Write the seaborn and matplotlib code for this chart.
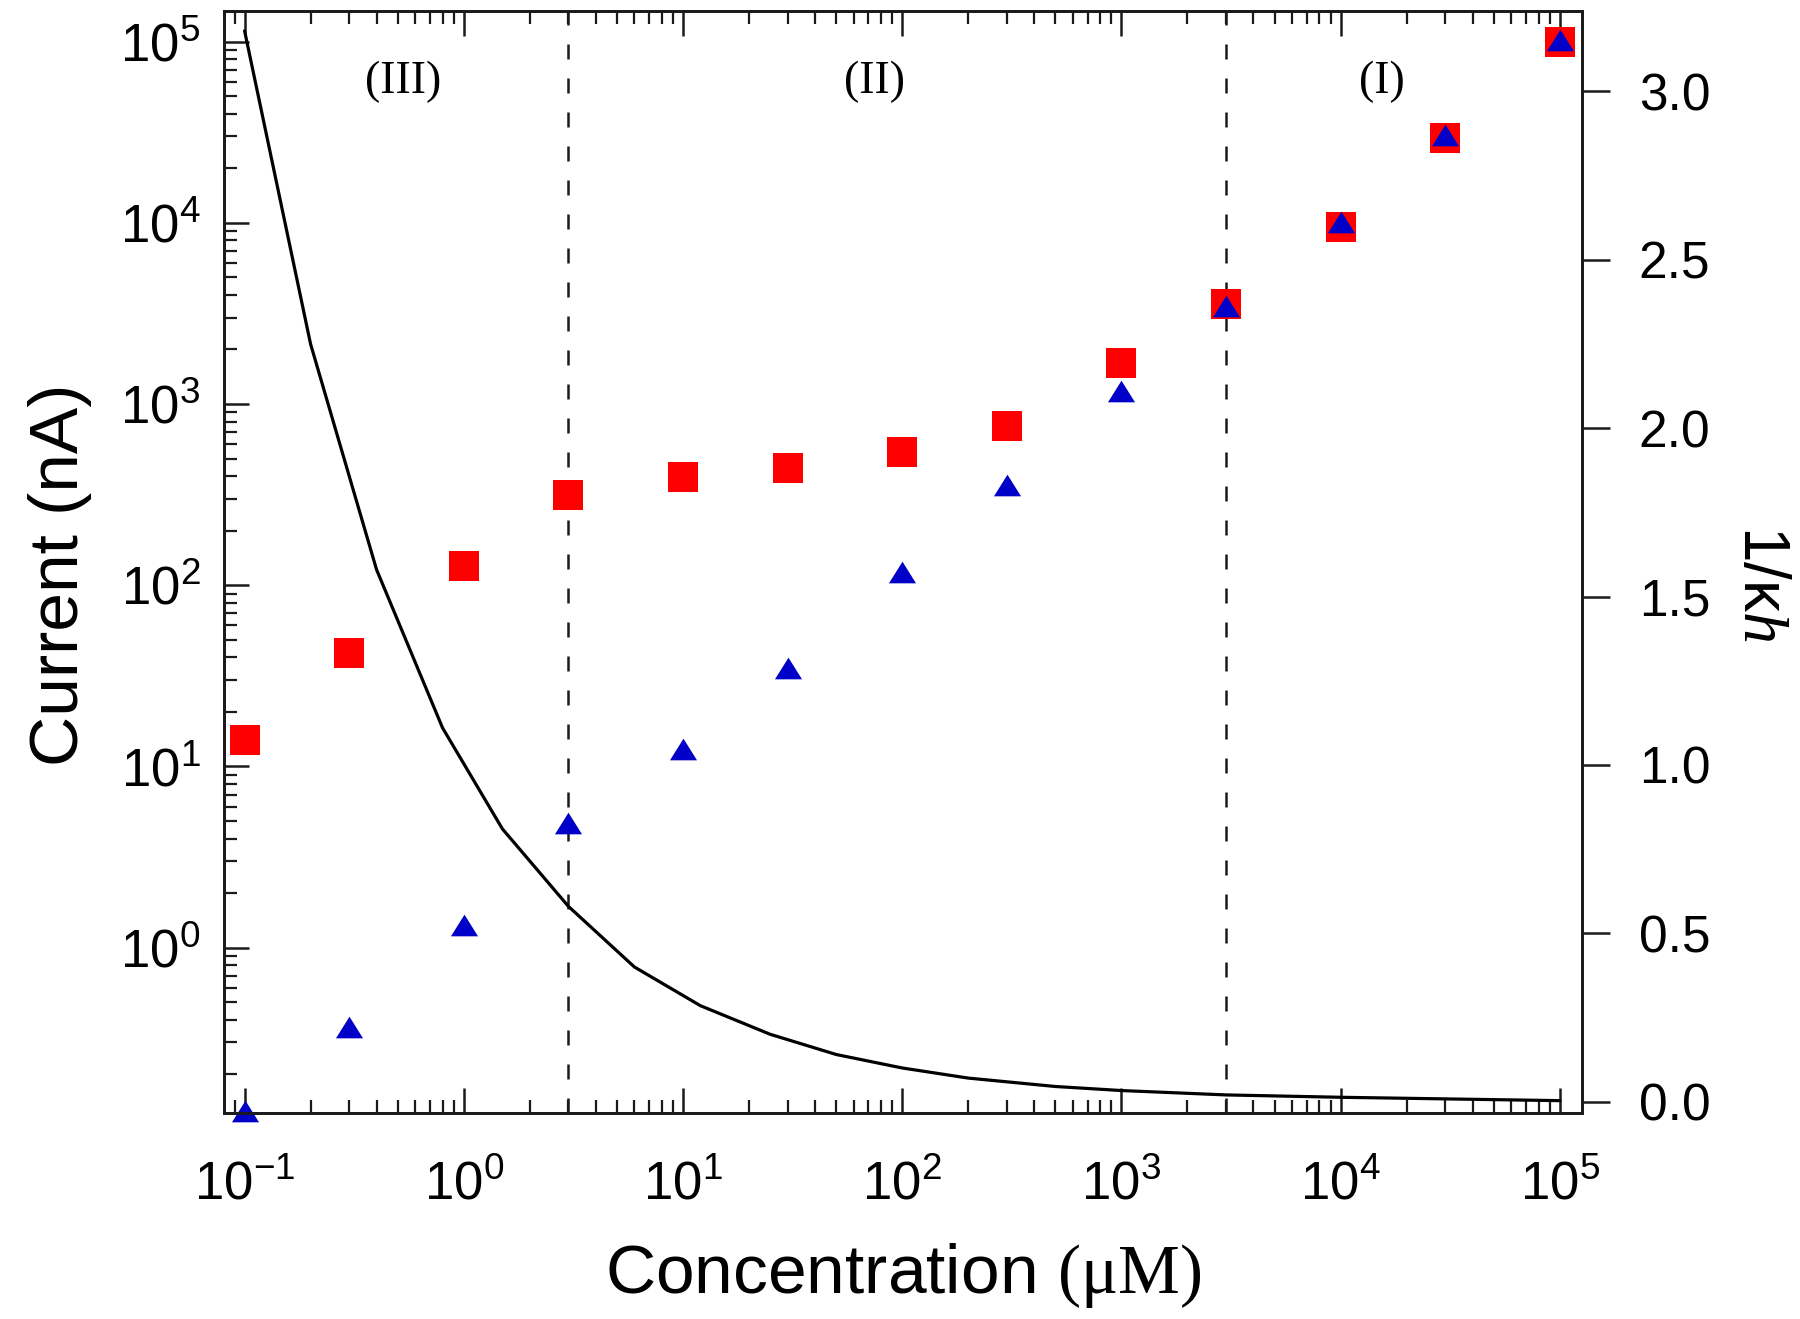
import numpy as np
import pandas as pd
import matplotlib

matplotlib.use("Agg")
import matplotlib.pyplot as plt
import matplotlib.transforms as mtransforms
from matplotlib.path import Path
from matplotlib.markers import MarkerStyle
from matplotlib.ticker import LogFormatterSciNotation, NullFormatter, FormatStrFormatter
import seaborn as sns

# %% data

concentration = [0.1, 0.3, 1, 3, 10, 30, 100, 300, 1000, 3000, 1e4, 3e4, 1e5]
current_squares = [14.0, 42.4, 128, 315, 398, 442, 546, 754, 1680, 3580, 9490, 29400, 1.0e5]
current_triangles = [0.125, 0.365, 1.33, 4.88, 12.5, 35, 119, 358, 1186, 3490, 10100, 30500, 1.02e5]

kh_concentration = [0.1, 0.2, 0.4, 0.8, 1.5, 3, 6, 12, 25, 50, 100, 200, 500, 1000, 3000, 1e4, 1e5]
inv_kh = [3.18, 2.25, 1.58, 1.11, 0.81, 0.58, 0.40, 0.285, 0.20, 0.14, 0.10, 0.07,
          0.045, 0.033, 0.02, 0.013, 0.003]

x_ticks = [1e-1, 1e0, 1e1, 1e2, 1e3, 1e4, 1e5]
y_ticks = [1e0, 1e1, 1e2, 1e3, 1e4, 1e5]
right_ticks = [0.0, 0.5, 1.0, 1.5, 2.0, 2.5, 3.0]

region_bounds = [3, 3000]
region_labels = ["(III)", "(II)", "(I)"]
region_label_x = [0.53, 75, 15400]

points = pd.DataFrame(
    {"conc": concentration, "squares": current_squares, "triangles": current_triangles}
)
curve = pd.DataFrame({"conc": kh_concentration, "inv_kh": inv_kh})

# %% style

sns.set_style("ticks")
plt.rcParams.update(
    {
        "font.family": ["Liberation Sans", "DejaVu Sans"],
        "mathtext.fontset": "custom",
        "mathtext.rm": "Liberation Sans",
        "mathtext.it": "Liberation Serif:italic",
        "mathtext.sf": "Liberation Serif",
        "axes.unicode_minus": False,
        "axes.edgecolor": "#1a1a1a",
        "axes.linewidth": 2.0,
        "xtick.color": "#1a1a1a",
        "ytick.color": "#1a1a1a",
        "xtick.labelcolor": "black",
        "ytick.labelcolor": "black",
        "text.color": "black",
        "axes.labelcolor": "black",
    }
)

fig = plt.figure(figsize=(18, 13.19), dpi=100)
ax = fig.add_axes([0.1244, 0.1562, 0.7544, 0.8355])
ax.set(xscale="log", yscale="log")

for b in region_bounds:
    ax.axvline(b, color="#1a1a1a", lw=1.8, linestyle=(0, (6, 7.6)), zorder=1)

sns.scatterplot(
    data=points, x="conc", y="squares", marker="s", s=21**2, color="#ff0000",
    linewidth=0, clip_on=False, zorder=3, ax=ax,
)
tri = MarkerStyle(Path([(-1, -0.8), (1, -0.8), (0, 0.8), (-1, -0.8)], closed=True))
sns.scatterplot(
    data=points, x="conc", y="triangles", marker=tri, s=19.5**2, color="#0000c8",
    linewidth=0, clip_on=False, zorder=4, ax=ax,
)

xlim = (0.0805, 1.259e5)
ylim = (0.1224, 1.476e5)
ax.set_xlim(*xlim)
ax.set_ylim(*ylim)

# minor ticks: 2..9 of every decade, kept inside the view
x_minor = [m * 10.0**e for e in range(-2, 6) for m in range(2, 10)]
y_minor = [m * 10.0**e for e in range(-1, 6) for m in range(2, 10)]
ax.set_xticks(x_ticks)
ax.set_xticks([v for v in x_minor if xlim[0] < v < xlim[1]], minor=True)
ax.set_yticks(y_ticks)
ax.set_yticks([v for v in y_minor if ylim[0] < v < ylim[1]], minor=True)
ax.xaxis.set_major_formatter(LogFormatterSciNotation())
ax.yaxis.set_major_formatter(LogFormatterSciNotation())
ax.xaxis.set_minor_formatter(NullFormatter())
ax.yaxis.set_minor_formatter(NullFormatter())
ax.set_xlim(*xlim)
ax.set_ylim(*ylim)

ax.tick_params(which="major", direction="in", length=18, width=1.8, labelsize=38)
ax.tick_params(which="minor", direction="in", length=9.5, width=1.6)
ax.tick_params(axis="x", which="both", top=True, bottom=True)
ax.tick_params(axis="x", which="major", pad=34)
ax.tick_params(axis="y", which="both", left=True, right=False)
ax.tick_params(axis="y", which="major", pad=17)

ax.set_xlabel(r"Concentration $\mathsf{(\mu M)}$", fontsize=50, labelpad=22)
ax.set_ylabel("Current (nA)", fontsize=50, labelpad=20)
ax.yaxis.label.set_y(0.488)

trans = mtransforms.blended_transform_factory(ax.transData, ax.transAxes)
for lx, lab in zip(region_label_x, region_labels):
    ax.text(lx, 0.936, lab, transform=trans, ha="center", va="center",
            fontsize=33, family="Liberation Serif")

# %% right axis: 1/kappa h

ax2 = ax.twinx()
sns.lineplot(data=curve, x="conc", y="inv_kh", color="black", lw=2.3, ax=ax2)
ax2.set_ylim(-0.0336, 3.239)
ax2.set_yticks(right_ticks)
ax2.yaxis.set_major_formatter(FormatStrFormatter("%.1f"))
ax2.set_ylim(-0.0336, 3.239)
ax2.tick_params(axis="y", direction="out", length=20, width=1.8, labelsize=37, pad=21)
ax2.tick_params(axis="y", which="minor", right=False)
ax2.set_ylabel(r"1/$\mathrm{\kappa}h$", rotation=270, fontsize=46, labelpad=58)
ax2.yaxis.label.set_y(0.481)
for sp in ax2.spines.values():
    sp.set_linewidth(2.0)

fig.savefig("out.png", dpi=100)
